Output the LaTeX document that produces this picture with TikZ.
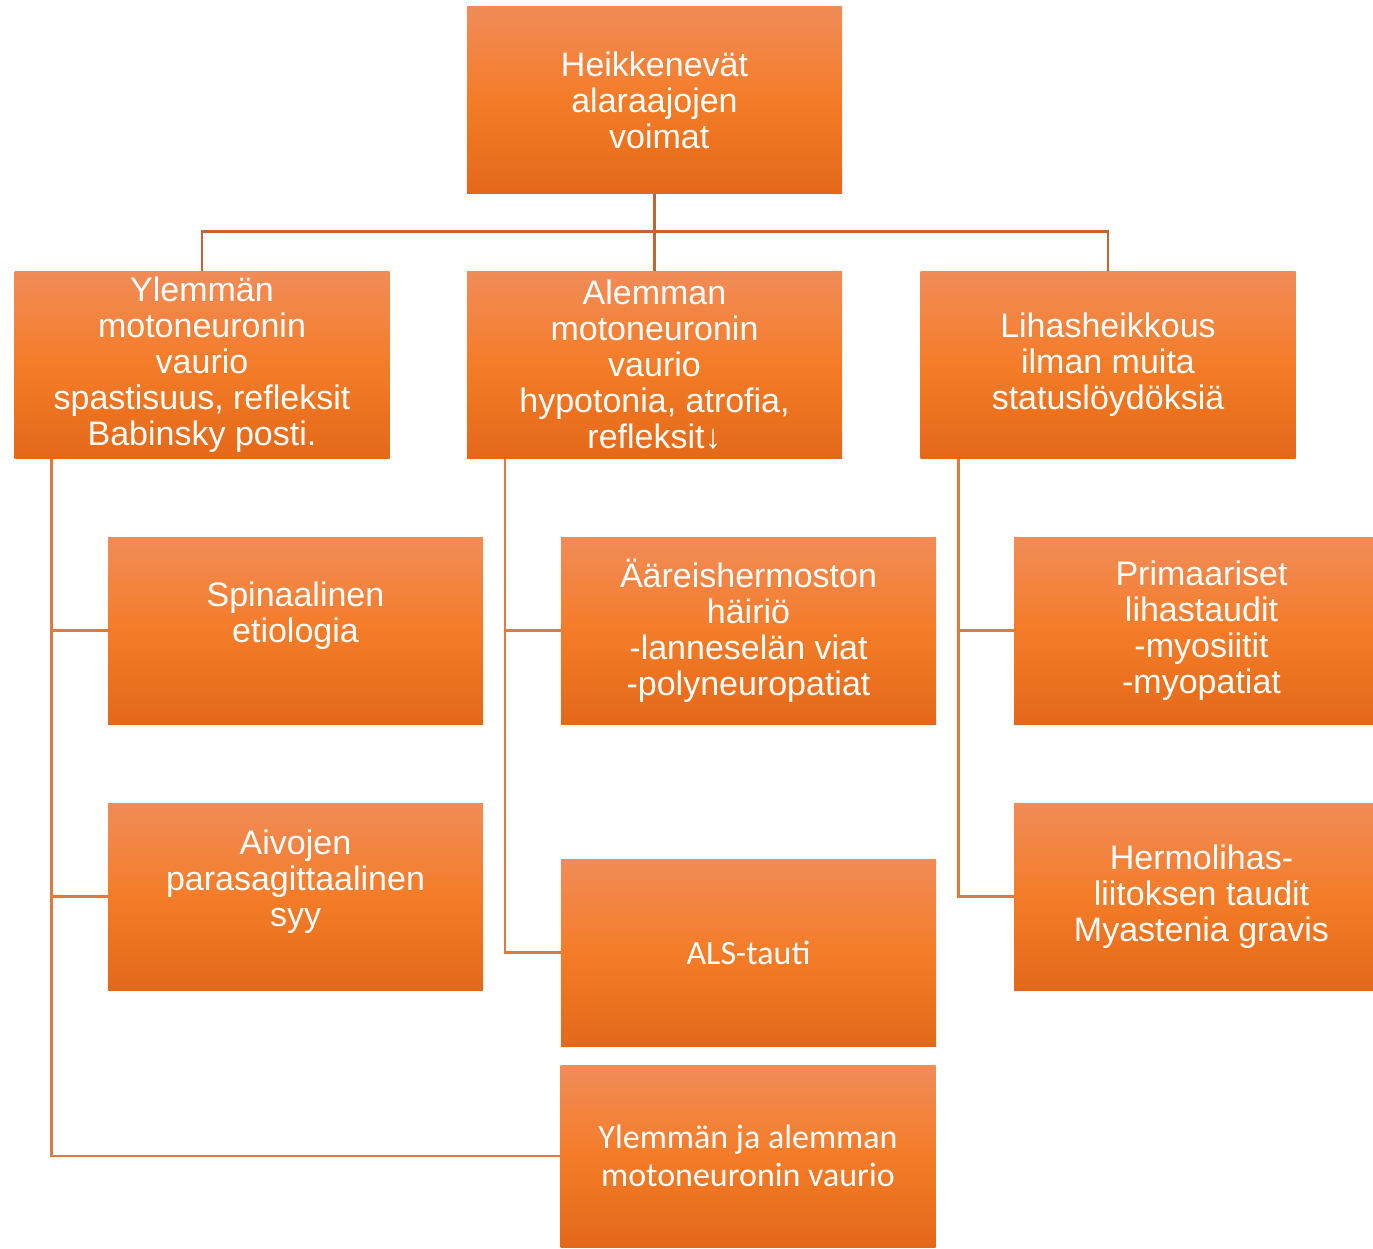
\documentclass[tikz,border=0pt]{standalone}
\usepackage{fontspec}
\setmainfont{Liberation Sans}
\newfontfamily\narrowfont{Carlito}
\definecolor{boxtop}{RGB}{241,140,88}
\definecolor{boxmid}{RGB}{244,124,40}
\definecolor{boxbot}{RGB}{228,104,24}
\definecolor{treeline}{RGB}{192,102,52}
\definecolor{subline}{RGB}{224,122,62}
\tikzset{
  box/.style={rectangle, inner sep=0pt, align=center, text=white,
    top color=boxtop, bottom color=boxbot, middle color=boxmid,
    minimum width=375pt, minimum height=187pt,
    font=\fontsize{34}{36}\selectfont},
  conn/.style={draw=treeline, line width=2.5pt},
  subconn/.style={draw=subline, line width=2.5pt}
}
\begin{document}
\begin{tikzpicture}[x=1pt,y=-1pt]
\useasboundingbox (0,0) rectangle (1373,1248);
\node[box] (top) at (654.5,100) {Heikkenevät\\alaraajojen\\\hspace*{0.28em}voimat};

\node[box] (upper) at (202,365) {Ylemmän\\motoneuronin\\vaurio\\spastisuus, refleksit\\Babinsky posti.};
\node[box] (lower) at (654.5,365) {Alemman\\motoneuronin\\vaurio\\hypotonia, atrofia,\\refleksit↓};
\node[box] (muscle) at (1108,365) {Lihasheikkous\\ilman muita\\statuslöydöksiä};

\node[box] (spinal) at (295.5,630.5) {Spinaalinen\\etiologia\\~};
\node[box] (brain) at (295.5,896.5) {Aivojen\\parasagittaalinen\\syy\\~};

\node[box] (periph) at (748.5,630.5) {Ääreishermoston\\häiriö\\-lanneselän viat\\-polyneuropatiat};
\node[box, font=\narrowfont\fontsize{34}{38}\selectfont] (als) at (748.5,952.5) {ALS-tauti};
\node[box, minimum height=182pt, font=\narrowfont\fontsize{34}{38}\selectfont] (both) at (748,1156) {Ylemmän ja alemman\\motoneuronin vaurio};

\node[box] (primary) at (1201.5,630.5) {Primaariset\\lihastaudit\\-myosiitit\\-myopatiat};
\node[box] (junction) at (1201.5,896.5) {Hermolihas-\\liitoksen taudit\\Myastenia gravis};

% top level
\path[conn] (top.south) -- (lower.north);
\path[conn] (upper.north) -- ++(0,-40) -| (muscle.north);

% branches
\path[subconn] ([xshift=37pt]upper.south west) |- (spinal.west);
\path[subconn] ([xshift=37pt]upper.south west) |- (brain.west);
\path[subconn] ([xshift=37pt]upper.south west) |- (both.west);
\path[subconn] ([xshift=38pt]lower.south west) |- (periph.west);
\path[subconn] ([xshift=38pt]lower.south west) |- (als.west);
\path[subconn] ([xshift=38pt]muscle.south west) |- (primary.west);
\path[subconn] ([xshift=38pt]muscle.south west) |- (junction.west);
\end{tikzpicture}
\end{document}
